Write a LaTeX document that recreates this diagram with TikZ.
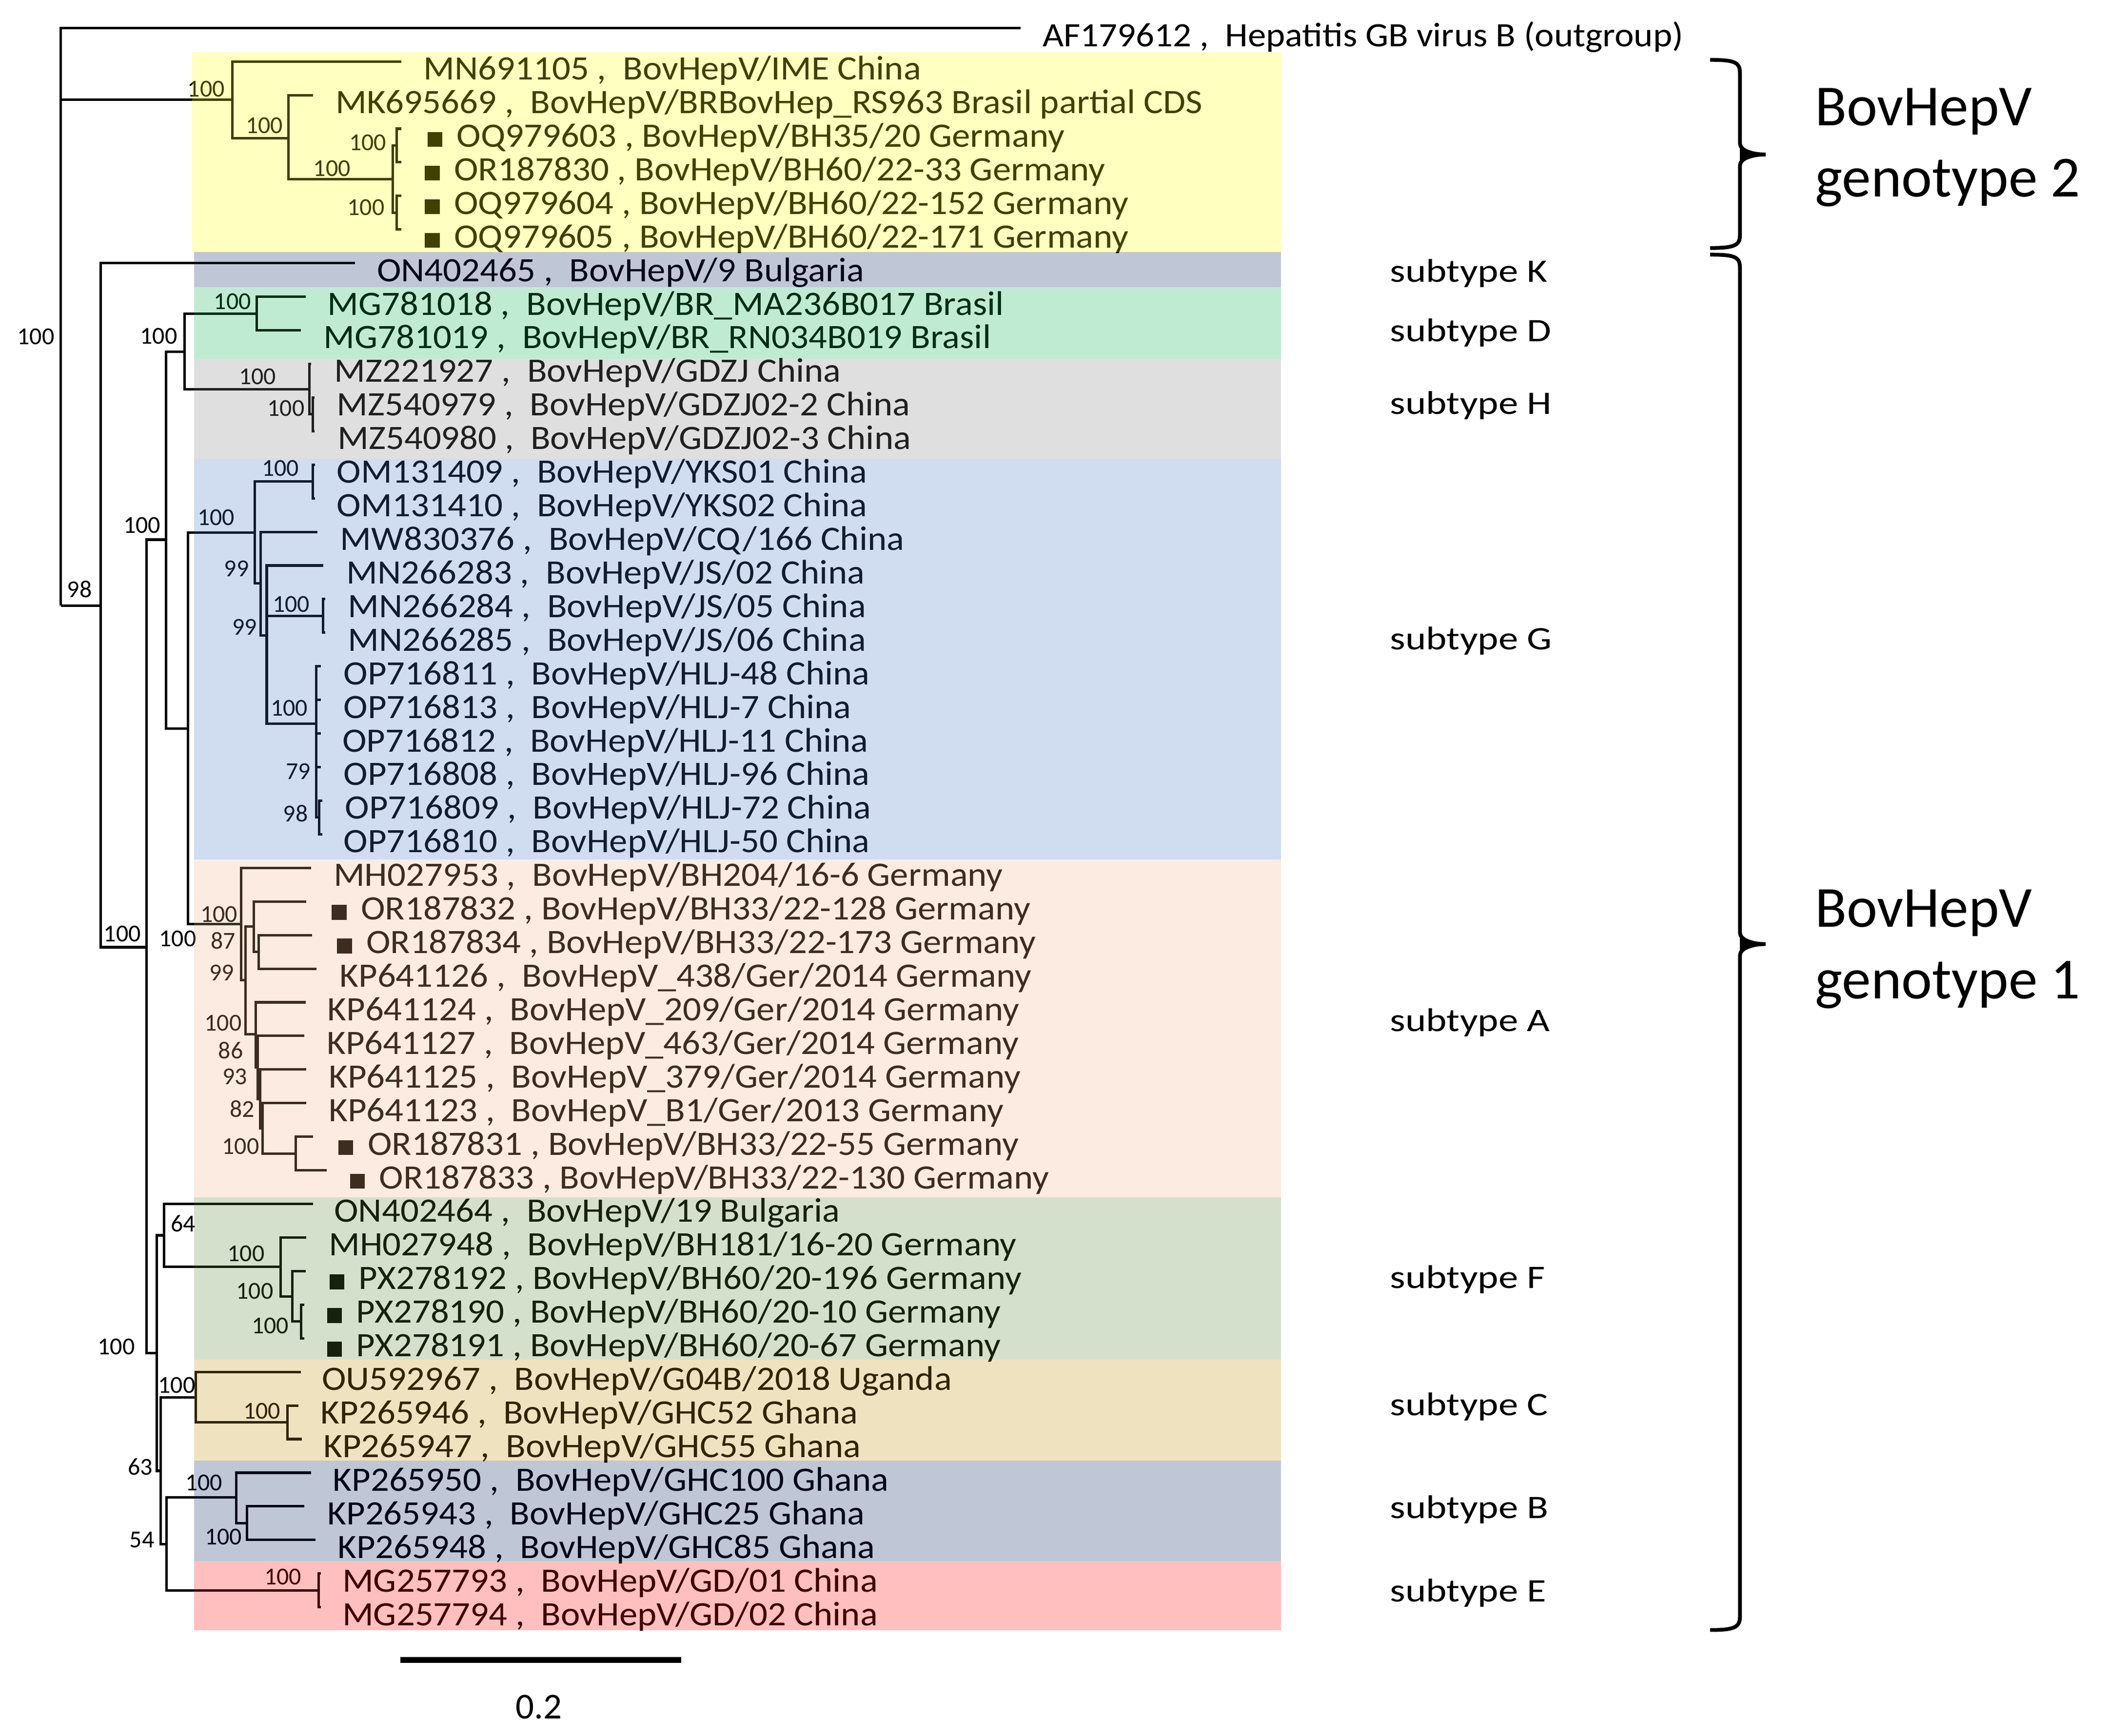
\documentclass[tikz,border=0pt]{standalone}
\usepackage{fontspec}
\setmainfont{Carlito}
\definecolor{bY}{HTML}{FFFF00}
\definecolor{bK}{HTML}{002060}
\definecolor{bD}{HTML}{00B050}
\definecolor{bH}{HTML}{808080}
\definecolor{bG}{HTML}{4472C4}
\definecolor{bA}{HTML}{F4B183}
\definecolor{bF}{HTML}{548235}
\definecolor{bC}{HTML}{BF9000}
\definecolor{bE}{HTML}{FF0000}
\newcommand\mysq{\rule{10.4pt}{11pt}\hspace{10pt}}
\newcommand\kids[2]{\foreach \kk in {#2}{\draw[br] (#1) |- (\kk);}}
\begin{document}
\begin{tikzpicture}[x=1pt,y=-1pt,
 br/.style={line width=1.85pt},
 lab/.style={anchor=base west,inner sep=0pt,font=\fontsize{25.3}{30}\selectfont,xscale=1.066},
 bs/.style={anchor=center,inner sep=0pt,font=\fontsize{18}{20}\selectfont},
 subl/.style={anchor=base west,inner sep=0pt,font=\fontsize{24.3}{28}\selectfont,xscale=1.2},
 geno/.style={anchor=base west,inner sep=0pt,font=\fontsize{43}{50}\selectfont},
 band/.style={fill opacity=0.25},
 brace/.style={line width=2.8pt}]
\useasboundingbox (0,0) rectangle (1560,1284.4);
% ---------- tree coordinates ----------
\coordinate (r) at (45,448);
\coordinate (out) at (755,20.6);
\coordinate (g2) at (172,73.8);
\coordinate (t1) at (296.8,45.5);
\coordinate (g2a) at (213.3,102.4);
\coordinate (t2) at (231.5,70.36);
\coordinate (g2b) at (290.4,132.6);
\coordinate (pA) at (293.5,107.65);
\coordinate (pB) at (293.5,157.37);
\coordinate (t3) at (297,95.22);
\coordinate (t4) at (297,120.08);
\coordinate (t5) at (297,144.94);
\coordinate (t6) at (297,169.80);
\coordinate (k) at (74.6,448);
\coordinate (t7) at (262.6,194.66);
\coordinate (n108) at (108.3,700.8);
\coordinate (n122) at (122.7,399.3);
\coordinate (dh) at (136.6,260.2);
\coordinate (d) at (189.8,232);
\coordinate (t8) at (226,219.52);
\coordinate (t9) at (222.6,244.38);
\coordinate (h) at (229,288);
\coordinate (t10) at (230,269.24);
\coordinate (hs) at (231.5,306.5);
\coordinate (t11) at (232.5,294.10);
\coordinate (t12) at (232.5,318.96);
\coordinate (ga) at (139.2,539.1);
\coordinate (g) at (188.5,393.9);
\coordinate (om) at (231.5,356.25);
\coordinate (t13) at (233,343.82);
\coordinate (t14) at (233,368.68);
\coordinate (gb) at (192.8,431.6);
\coordinate (t15) at (234.8,393.54);
\coordinate (gc) at (197.3,470.2);
\coordinate (t16) at (239,418.40);
\coordinate (js) at (239,455.7);
\coordinate (t17) at (240.5,443.26);
\coordinate (t18) at (240.5,468.12);
\coordinate (op) at (233.8,535.3);
\coordinate (t19) at (237.5,492.98);
\coordinate (t20) at (237.5,517.84);
\coordinate (t21) at (237.5,542.70);
\coordinate (t22) at (237.5,567.56);
\coordinate (opp) at (236,604.85);
\coordinate (t23) at (238.5,592.42);
\coordinate (t24) at (238.5,617.28);
\coordinate (a) at (178.4,683.8);
\coordinate (t25) at (230.2,642.14);
\coordinate (aR) at (181.7,725.3);
\coordinate (aP) at (187.7,685.5);
\coordinate (t26) at (226.4,667.00);
\coordinate (aT) at (191.5,704.3);
\coordinate (t27) at (230.7,691.86);
\coordinate (t28) at (234,716.72);
\coordinate (aS) at (189.2,765.2);
\coordinate (t29) at (226,741.58);
\coordinate (aS2) at (190.5,789.7);
\coordinate (t30) at (225.2,766.44);
\coordinate (aS3) at (192.3,813);
\coordinate (t31) at (226.4,791.30);
\coordinate (aS4) at (194.3,834.7);
\coordinate (t32) at (226.4,816.16);
\coordinate (aV) at (218.8,853.45);
\coordinate (t33) at (231.5,841.02);
\coordinate (t34) at (241.6,865.88);
\coordinate (n116) at (115.9,1001);
\coordinate (n121) at (121.4,914);
\coordinate (t35) at (231.5,890.74);
\coordinate (f) at (207.5,937.2);
\coordinate (t36) at (226.4,915.60);
\coordinate (f2) at (216.3,959.1);
\coordinate (t37) at (226,940.46);
\coordinate (f3) at (222.6,977.75);
\coordinate (t38) at (225,965.32);
\coordinate (t39) at (225,990.18);
\coordinate (n119) at (118.9,1088.2);
\coordinate (c) at (144.7,1033.8);
\coordinate (t40) at (222.6,1015.04);
\coordinate (c2) at (212.5,1052.3);
\coordinate (t41) at (220.6,1039.90);
\coordinate (t42) at (223.1,1064.76);
\coordinate (n123) at (123.2,1142.4);
\coordinate (b) at (174.6,1107.9);
\coordinate (t43) at (230.2,1089.62);
\coordinate (b2) at (182.7,1126.9);
\coordinate (t44) at (225.2,1114.48);
\coordinate (t45) at (233.3,1139.34);
\coordinate (e) at (235.8,1176.6);
\coordinate (t46) at (237.5,1164.20);
\coordinate (t47) at (237.5,1189.06);
% ---------- branches ----------
\kids{r}{out,g2,k}
\kids{g2}{t1,g2a}
\kids{g2a}{t2,g2b}
\kids{g2b}{pA,pB}
\kids{pA}{t3,t4}
\kids{pB}{t5,t6}
\kids{k}{t7,n108}
\kids{n108}{n122,n116}
\kids{n122}{dh,ga}
\kids{dh}{d,h}
\kids{d}{t8,t9}
\kids{h}{t10,hs}
\kids{hs}{t11,t12}
\kids{ga}{g,a}
\kids{g}{om,gb}
\kids{om}{t13,t14}
\kids{gb}{t15,gc}
\kids{gc}{t16,js,op}
\kids{js}{t17,t18}
\kids{op}{t19,t20,t21,t22,opp}
\kids{opp}{t23,t24}
\kids{a}{t25,aR}
\kids{aR}{aP,aS}
\kids{aP}{t26,aT}
\kids{aT}{t27,t28}
\kids{aS}{t29,aS2}
\kids{aS2}{t30,aS3}
\kids{aS3}{t31,aS4}
\kids{aS4}{t32,aV}
\kids{aV}{t33,t34}
\kids{n116}{n121,n119}
\kids{n121}{t35,f}
\kids{f}{t36,f2}
\kids{f2}{t37,f3}
\kids{f3}{t38,t39}
\kids{n119}{c,n123}
\kids{c}{t40,c2}
\kids{c2}{t41,t42}
\kids{n123}{b,e}
\kids{b}{t43,b2}
\kids{b2}{t44,t45}
\kids{e}{t46,t47}
% ---------- tip labels ----------
\node[lab] (L0) at (771,34.6) {AF179612 ,~~Hepatitis GB virus B (outgroup)};
\node[lab] (L1) at (313,59) {MN691105 ,~~BovHepV/IME China};
\node[lab] (L2) at (248,83.86) {MK695669 ,~~BovHepV/BRBovHep\_RS963 Brasil partial CDS};
\node[lab] (L3) at (316,108.72) {\mysq OQ979603 , BovHepV/BH35/20 Germany};
\node[lab] (L4) at (314,133.58) {\mysq OR187830 , BovHepV/BH60/22-33 Germany};
\node[lab] (L5) at (314,158.44) {\mysq OQ979604 , BovHepV/BH60/22-152 Germany};
\node[lab] (L6) at (314,183.30) {\mysq OQ979605 , BovHepV/BH60/22-171 Germany};
\node[lab] (L7) at (278.6,208.16) {ON402465 ,~~BovHepV/9 Bulgaria};
\node[lab] (L8) at (242,233.02) {MG781018 ,~~BovHepV/BR\_MA236B017 Brasil};
\node[lab] (L9) at (239,257.88) {MG781019 ,~~BovHepV/BR\_RN034B019 Brasil};
\node[lab] (L10) at (247,282.74) {MZ221927 ,~~BovHepV/GDZJ China};
\node[lab] (L11) at (249,307.60) {MZ540979 ,~~BovHepV/GDZJ02-2 China};
\node[lab] (L12) at (249.5,332.46) {MZ540980 ,~~BovHepV/GDZJ02-3 China};
\node[lab] (L13) at (249,357.32) {OM131409 ,~~BovHepV/YKS01 China};
\node[lab] (L14) at (249,382.18) {OM131410 ,~~BovHepV/YKS02 China};
\node[lab] (L15) at (251.5,407.04) {MW830376 ,~~BovHepV/CQ/166 China};
\node[lab] (L16) at (256,431.90) {MN266283 ,~~BovHepV/JS/02 China};
\node[lab] (L17) at (257,456.76) {MN266284 ,~~BovHepV/JS/05 China};
\node[lab] (L18) at (257,481.62) {MN266285 ,~~BovHepV/JS/06 China};
\node[lab] (L19) at (254,506.48) {OP716811 ,~~BovHepV/HLJ-48 China};
\node[lab] (L20) at (254,531.34) {OP716813 ,~~BovHepV/HLJ-7 China};
\node[lab] (L21) at (253,556.20) {OP716812 ,~~BovHepV/HLJ-11 China};
\node[lab] (L22) at (254,581.06) {OP716808 ,~~BovHepV/HLJ-96 China};
\node[lab] (L23) at (255,605.92) {OP716809 ,~~BovHepV/HLJ-72 China};
\node[lab] (L24) at (254,630.78) {OP716810 ,~~BovHepV/HLJ-50 China};
\node[lab] (L25) at (246.5,655.64) {MH027953 ,~~BovHepV/BH204/16-6 Germany};
\node[lab] (L26) at (245,680.50) {\mysq OR187832 , BovHepV/BH33/22-128 Germany};
\node[lab] (L27) at (249,705.36) {\mysq OR187834 , BovHepV/BH33/22-173 Germany};
\node[lab] (L28) at (251,730.22) {KP641126 ,~~BovHepV\_438/Ger/2014 Germany};
\node[lab] (L29) at (242,755.08) {KP641124 ,~~BovHepV\_209/Ger/2014 Germany};
\node[lab] (L30) at (241.5,779.94) {KP641127 ,~~BovHepV\_463/Ger/2014 Germany};
\node[lab] (L31) at (243,804.80) {KP641125 ,~~BovHepV\_379/Ger/2014 Germany};
\node[lab] (L32) at (243,829.66) {KP641123 ,~~BovHepV\_B1/Ger/2013 Germany};
\node[lab] (L33) at (250,854.52) {\mysq OR187831 , BovHepV/BH33/22-55 Germany};
\node[lab] (L34) at (258.6,879.38) {\mysq OR187833 , BovHepV/BH33/22-130 Germany};
\node[lab] (L35) at (247,904.24) {ON402464 ,~~BovHepV/19 Bulgaria};
\node[lab] (L36) at (243,929.10) {MH027948 ,~~BovHepV/BH181/16-20 Germany};
\node[lab] (L37) at (243.5,953.96) {\mysq PX278192 , BovHepV/BH60/20-196 Germany};
\node[lab] (L38) at (241.7,978.82) {\mysq PX278190 , BovHepV/BH60/20-10 Germany};
\node[lab] (L39) at (241.7,1003.68) {\mysq PX278191 , BovHepV/BH60/20-67 Germany};
\node[lab] (L40) at (238,1028.54) {OU592967 ,~~BovHepV/G04B/2018 Uganda};
\node[lab] (L41) at (237,1053.40) {KP265946 ,~~BovHepV/GHC52 Ghana};
\node[lab] (L42) at (239,1078.26) {KP265947 ,~~BovHepV/GHC55 Ghana};
\node[lab] (L43) at (246,1103.12) {KP265950 ,~~BovHepV/GHC100 Ghana};
\node[lab] (L44) at (242,1127.98) {KP265943 ,~~BovHepV/GHC25 Ghana};
\node[lab] (L45) at (249.5,1152.84) {KP265948 ,~~BovHepV/GHC85 Ghana};
\node[lab] (L46) at (253,1177.70) {MG257793 ,~~BovHepV/GD/01 China};
\node[lab] (L47) at (253,1202.56) {MG257794 ,~~BovHepV/GD/02 China};
% ---------- bootstrap values ----------
\node[bs] (s1) at (152.5,65.7) {100};
\node[bs] (s2) at (195.5,93) {100};
\node[bs] (s3) at (245.5,124.5) {100};
\node[bs] (s4) at (272,105.5) {100};
\node[bs] (s5) at (270.7,153.6) {100};
\node[bs] (s6) at (26.5,249) {100};
\node[bs] (s7) at (117.4,248.6) {100};
\node[bs] (s8) at (172,223) {100};
\node[bs] (s9) at (190.5,278.5) {100};
\node[bs] (s10) at (211.5,302) {100};
\node[bs] (s11) at (207.5,346.5) {100};
\node[bs] (s12) at (105,388.7) {100};
\node[bs] (s13) at (159.8,383) {100};
\node[bs] (s14) at (58.8,436) {98};
\node[bs] (s15) at (175,420.6) {99};
\node[bs] (s16) at (181,464) {99};
\node[bs] (s17) at (215.4,447) {100};
\node[bs] (s18) at (214,524) {100};
\node[bs] (s19) at (220.5,570.7) {79};
\node[bs] (s20) at (218.6,602) {98};
\node[bs] (s21) at (162,676.3) {100};
\node[bs] (s22) at (90.5,691) {100};
\node[bs] (s23) at (131.5,694.4) {100};
\node[bs] (s24) at (165,696) {87};
\node[bs] (s25) at (164,719.8) {99};
\node[bs] (s26) at (165,757) {100};
\node[bs] (s27) at (170.7,777) {86};
\node[bs] (s28) at (173.6,796.5) {93};
\node[bs] (s29) at (179.2,820.6) {82};
\node[bs] (s30) at (178,848.3) {100};
\node[bs] (s31) at (135.6,905.3) {64};
\node[bs] (s32) at (182,927.5) {100};
\node[bs] (s33) at (188.5,955.2) {100};
\node[bs] (s34) at (199.9,981) {100};
\node[bs] (s35) at (86,996.4) {100};
\node[bs] (s36) at (130.8,1024.8) {100};
\node[bs] (s37) at (193.8,1044.1) {100};
\node[bs] (s38) at (103.7,1085.3) {63};
\node[bs] (s39) at (150.8,1097) {100};
\node[bs] (s40) at (165.2,1136.9) {100};
\node[bs] (s41) at (105,1139.4) {54};
\node[bs] (s42) at (209.2,1166.5) {100};
% ---------- scale bar ----------
\coordinate (sb1) at (296,1228);
\coordinate (sb2) at (504,1228);
\draw[line width=4.3pt] (sb1) -- (sb2);
\node[anchor=base,inner sep=0pt,font=\fontsize{27}{30}\selectfont] (sbl) at (398.5,1271.5) {0.2};
% ---------- colour bands (translucent overlay) ----------
\fill[bY,band] (142,38.7) rectangle (947.7,186.5);
\fill[bK,band] (143.5,186.5) rectangle (947.7,212.6);
\fill[bD,band] (143.5,212.6) rectangle (947.7,265.4);
\fill[bH,band] (143.5,265.4) rectangle (947.7,339.5);
\fill[bG,band] (143.5,339.5) rectangle (947.7,636);
\fill[bA,band] (143.5,636) rectangle (947.7,886);
\fill[bF,band] (143.5,886) rectangle (947.7,1006);
\fill[bC,band] (143.5,1006) rectangle (947.7,1080.5);
\fill[bK,band] (143.5,1080.5) rectangle (947.7,1155);
\fill[bE,band] (143.5,1155) rectangle (947.7,1206);
% ---------- subtype labels ----------
\node[subl] (stK) at (1028,208.5) {subtype K};
\node[subl] (stD) at (1028,252.5) {subtype D};
\node[subl] (stH) at (1028,306.5) {subtype H};
\node[subl] (stG) at (1028,480.5) {subtype G};
\node[subl] (stA) at (1028,763) {subtype A};
\node[subl] (stF) at (1028,953) {subtype F};
\node[subl] (stC) at (1028,1047.4) {subtype C};
\node[subl] (stB) at (1028,1123.5) {subtype B};
\node[subl] (stE) at (1028,1185) {subtype E};
% ---------- braces and genotype labels ----------
\draw[brace] (1265,44.3) .. controls (1283,44.3) and (1287,46) .. (1287,54) -- (1287,106)
  .. controls (1287,111) and (1295,114.3) .. (1306,114.3)
  .. controls (1295,114.3) and (1287,117.6) .. (1287,122.6) -- (1287,174)
  .. controls (1287,181.5) and (1283,183.5) .. (1265,183.5);
\fill (1287,109) -- (1304,114.3) -- (1287,119.6) -- cycle;
\draw[brace] (1265,188.4) .. controls (1283,188.4) and (1287,190) .. (1287,198) -- (1287,690)
  .. controls (1287,695) and (1295,698.5) .. (1306,698.5)
  .. controls (1295,698.5) and (1287,702) .. (1287,707) -- (1287,1196)
  .. controls (1287,1204) and (1283,1206) .. (1265,1206);
\fill (1287,693) -- (1304,698.5) -- (1287,704) -- cycle;
\node[geno] (g2l1) at (1342.5,93) {BovHepV};
\node[geno] (g2l2) at (1342.5,145.7) {genotype 2};
\node[geno] (g1l1) at (1342.5,685.7) {BovHepV};
\node[geno] (g1l2) at (1342.5,738.7) {genotype 1};
\end{tikzpicture}
\end{document}
